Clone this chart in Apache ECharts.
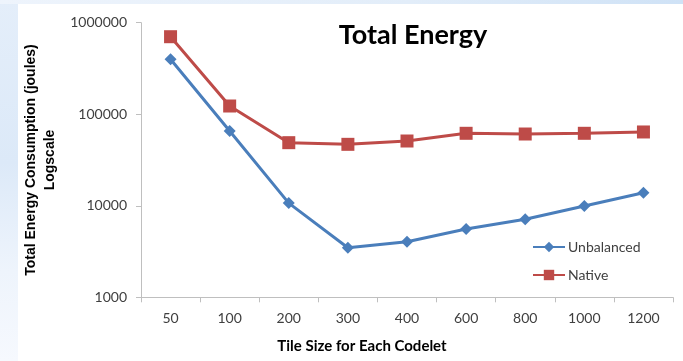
<!DOCTYPE html>
<html>
<head>
<meta charset="utf-8">
<script src="https://cdn.jsdelivr.net/npm/echarts@6/dist/echarts.min.js"></script>
<style>
  html, body { margin: 0; padding: 0; }
  body {
    width: 683px; height: 361px; overflow: hidden; position: relative;
    background: linear-gradient(180deg, #e4eefa 0%, #dce9f8 45%, #eef4fc 75%, #f6f9fe 100%);
  }
  #topband {
    position: absolute; left: 0; top: 0; width: 683px; height: 4px;
    background: linear-gradient(90deg, #eef4fc 0%, #e2edf9 60%, #cfe2f6 100%);
  }
  #panel {
    position: absolute; left: 18px; top: 4px; right: 0; bottom: 0;
    background: #ffffff;
  }
  #chart { position: absolute; left: 0; top: 0; width: 683px; height: 361px; }
</style>
</head>
<body>
<div id="topband"></div>
<div id="panel"></div>
<div id="chart"></div>
<script>
// Tile sizes on the x axis
const tileSizes = ['50', '100', '200', '300', '400', '600', '800', '1000', '1200'];

// Total energy consumption in joules for each tile size
const unbalanced = [398000, 65600, 10700, 3480, 4050, 5570, 7110, 9940, 13900];
const native = [703000, 123000, 48900, 46900, 51000, 61900, 60800, 61900, 64000];

const labelFont = 'Lato, "Liberation Sans", sans-serif';
const axisGrey = '#bfbfbf';
const textGrey = '#404040';

const chart = echarts.init(document.getElementById('chart'), null, { renderer: 'canvas' });

chart.setOption({
  backgroundColor: 'transparent',
  animation: false,
  title: {
    text: 'Total Energy',
    left: 408,
    top: 17,
    textAlign: 'center',
    textStyle: { fontFamily: labelFont, fontWeight: 'bold', fontSize: 27, color: '#000000' }
  },
  legend: {
    orient: 'vertical',
    left: 527,
    top: 235,
    itemWidth: 32,
    itemHeight: 13,
    itemGap: 14,
    textStyle: { fontFamily: labelFont, fontSize: 14, color: textGrey, padding: [0, 0, 0, -2] },
    data: ['Unbalanced', 'Native']
  },
  grid: { left: 141, top: 22.7, right: 10, bottom: 63.7, containLabel: false },
  xAxis: {
    type: 'category',
    data: tileSizes,
    boundaryGap: true,
    name: 'Tile Size for Each Codelet',
    nameLocation: 'middle',
    nameGap: 41,
    nameTextStyle: {
      fontFamily: labelFont, fontWeight: 'bold', fontSize: 15, color: '#000000',
      padding: [0, 90, 0, 0]
    },
    axisLine: { lineStyle: { color: axisGrey, width: 1 } },
    axisTick: { show: true, inside: false, length: 5, alignWithLabel: false, lineStyle: { color: axisGrey } },
    axisLabel: { fontFamily: labelFont, fontSize: 14, color: textGrey, margin: 14 },
    splitLine: { show: false }
  },
  yAxis: {
    type: 'log',
    logBase: 10,
    min: 1000,
    max: 1000000,
    name: 'Total Energy Consumption (joules)\nLogscale',
    nameLocation: 'middle',
    nameGap: 62,
    nameRotate: 90,
    nameTextStyle: {
      fontFamily: '"Liberation Sans", Arial, sans-serif', fontWeight: 'bold',
      fontSize: 14, color: '#000000', lineHeight: 19
    },
    axisLine: { show: true, lineStyle: { color: axisGrey, width: 1 } },
    axisTick: { show: true, inside: false, length: 5, lineStyle: { color: axisGrey } },
    axisLabel: {
      fontFamily: labelFont, fontSize: 14, color: textGrey, margin: 14,
      formatter: function (v) { return String(Math.round(v)); }
    },
    splitLine: { show: false },
    minorTick: { show: false }
  },
  series: [
    {
      name: 'Unbalanced',
      type: 'line',
      data: unbalanced,
      symbol: 'diamond',
      symbolSize: 12,
      itemStyle: { color: '#4a7ebb' },
      lineStyle: { color: '#4a7ebb', width: 3 },
      z: 3
    },
    {
      name: 'Native',
      type: 'line',
      data: native,
      symbol: 'rect',
      symbolSize: 13,
      itemStyle: { color: '#be4b48' },
      lineStyle: { color: '#be4b48', width: 3 },
      z: 2
    }
  ]
});
</script>
</body>
</html>
